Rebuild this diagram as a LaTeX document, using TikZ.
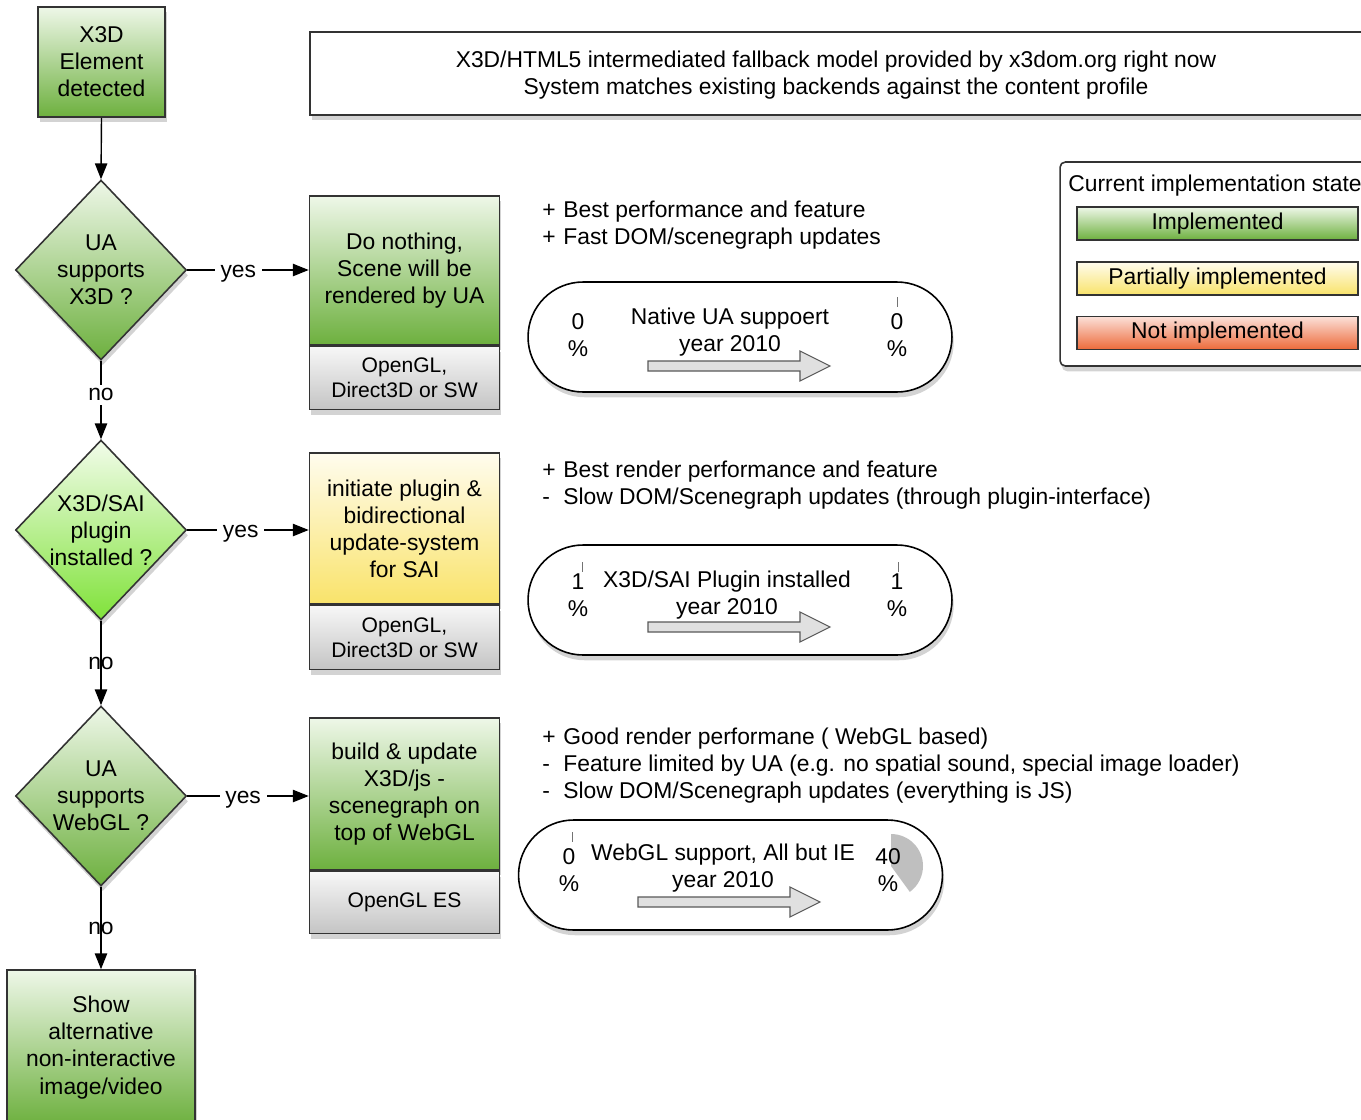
\documentclass[tikz,border=0pt]{standalone}
\usepackage{fontspec}
\setmainfont{Liberation Sans}
\usetikzlibrary{shapes.geometric}
\usetikzlibrary{shadows}
\usetikzlibrary{arrows.meta}

\definecolor{grtop}{HTML}{EEF7E8}
\definecolor{grbot}{HTML}{6DB03E}
\definecolor{ltgrtop}{HTML}{F2FCEA}
\definecolor{ltgrbot}{HTML}{80E23A}
\definecolor{yltop}{HTML}{FFFCEE}
\definecolor{ylbot}{HTML}{F9E36A}
\definecolor{gytop}{HTML}{F7F7F7}
\definecolor{gybot}{HTML}{C4C4C4}
\definecolor{rdtop}{HTML}{FCE0D8}
\definecolor{rdbot}{HTML}{EC6A3A}
\definecolor{edge}{HTML}{333333}

\newcommand\pro{\makebox[0.92em][l]{+}}
\newcommand\con{\makebox[0.92em][l]{-}}

\tikzset{
  shade/.style={drop shadow={shadow xshift=1pt, shadow yshift=-3pt, opacity=0.35}},
  box/.style={draw=edge, line width=0.9pt, align=center, inner sep=0pt, shade},
  okbox/.style={box, top color=grtop, bottom color=grbot, minimum width=3.8cm},
  halfbox/.style={box, top color=yltop, bottom color=ylbot, minimum width=3.8cm},
  apibox/.style={box, top color=gytop, bottom color=gybot, minimum width=3.8cm, anchor=north,
    font=\fontsize{12}{14.2}\selectfont},
  decide/.style={diamond, draw=edge, line width=0.9pt, align=center, inner sep=-8pt,
    minimum width=3.42cm, minimum height=3.6cm, top color=grtop, bottom color=grbot, shade},
  oval/.style={draw=black, line width=0.9pt, fill=white, rounded corners=1.1cm,
    minimum width=8.48cm, minimum height=2.2cm, shade},
  bar/.style={draw=edge, line width=0.8pt, minimum width=5.62cm, minimum height=0.66cm, inner sep=0pt},
  flow/.style={-{Triangle[length=9pt,width=7pt]}, line width=0.8pt},
  answer/.style={fill=white, yshift=-2pt},
  bigarrow/.style={draw=black!65, fill=black!12, line width=0.6pt},
  pie/.style={fill=black!25},
  tick/.style={black!55, line width=0.4pt}
}

\begin{document}
\begin{tikzpicture}[x=0.02cm, y=-0.02cm, font=\fontsize{13}{15.4}\selectfont]
\useasboundingbox (0,0) rectangle (1361,1119);
\clip (0,0) rectangle (1361,1119);

% flow on the left
\node[okbox, minimum width=2.54cm, minimum height=2.2cm] (start) at (101.5,62) {X3D\\Element\\detected};
\node[decide] (d1) at (101,270) {UA\\supports\\X3D ?};
\node[decide, top color=ltgrtop, bottom color=ltgrbot] (d2) at (101,530) {X3D/SAI\\plugin\\installed ?};
\node[decide] (d3) at (101,796) {UA\\supports\\WebGL ?};
\node[okbox, minimum width=3.76cm, minimum height=3.1cm] (alt) at (101,1047.5) {Show\\alternative\\non-interactive\\image/video};

% backends
\node[okbox, minimum height=2.98cm] (b1) at (404.5,270.5) {Do nothing,\\Scene will be\\rendered by UA};
\node[apibox, minimum height=1.26cm] (b1api) at (b1.south) {OpenGL,\\Direct3D or SW};
\node[halfbox, minimum height=3.02cm] (b2) at (404.5,528.5) {initiate plugin \&\\bidirectional\\update-system\\for SAI};
\node[apibox, minimum height=1.28cm] (b2api) at (b2.south) {OpenGL,\\Direct3D or SW};
\node[okbox, minimum height=3.04cm] (b3) at (404.5,794) {build \& update\\X3D/js -\\scenegraph on\\top of WebGL};
\node[apibox, minimum height=1.24cm] (b3api) at (b3.south) {OpenGL ES};

\draw[flow] (start.south) -- (d1.north);
\draw[flow] (d1.east) -- node[answer, pos=0.42] {yes} (d1.east -| b1.west);
\draw[flow] (d2.east) -- node[answer, pos=0.44] {yes} (d2.east -| b2.west);
\draw[flow] (d3.east) -- node[answer, pos=0.46] {yes} (d3.east -| b3.west);
\draw[flow] (d1.south) -- node[fill=white, inner sep=2pt, yshift=3pt] {no} (d2.north);
\draw[flow] (d2.south) -- node {no} (d3.north);
\draw[flow] (d3.south) -- node {no} (alt.north);

% header
\node[box, fill=white, minimum width=21.08cm, minimum height=1.66cm] (head) at (837,73.5) {};
\node[align=center] (headtxt) at (836,75.5)
  {X3D/HTML5 intermediated fallback model provided by x3dom.org right now\\System matches existing backends against the content profile};

% legend
\node[box, fill=white, rounded corners=3pt, minimum width=6.2cm, minimum height=4.08cm] (legend) at (1215,264) {};
\node[anchor=west, inner sep=0pt] (legtitle) at (1068,186) {Current implementation state};
\node[bar, top color=grtop, bottom color=grbot] (leg1) at (1217.5,223.5) {Implemented};
\node[bar, top color=yltop, bottom color=ylbot] (leg2) at (1217.5,278.5) {Partially implemented};
\node[bar, top color=rdtop, bottom color=rdbot] (leg3) at (1217.5,333) {Not implemented};

% pros and cons
\node[anchor=west, align=left, inner sep=0pt] (txt1) at (542,225)
  {\pro Best performance and feature\\\pro Fast DOM/scenegraph updates};
\node[anchor=west, align=left, inner sep=0pt] (txt2) at (542,485)
  {\pro Best render performance and feature\\\con Slow DOM/Scenegraph updates (through plugin-interface)};
\node[anchor=west, align=left, inner sep=0pt] (txt3) at (542,765.5)
  {\pro Good render performane ( WebGL based)\\\con Feature limited by UA (e.g. no spatial sound, special image loader)\\\con Slow DOM/Scenegraph updates (everything is JS)};

% usage ovals
\node[oval] (o1) at (740,337) {};
\draw[tick] (897,297) -- (897,307);
\node[align=center] (o1l) at (578,335) {0\\\%};
\node[align=center] (o1t) at (730,332) {Native UA suppoert\\year 2010};
\node[align=center] (o1r) at (897,335) {0\\\%};
\draw[bigarrow] (648,361) -- (800,361) -- (800,351) -- (830,366) -- (800,381) -- (800,371) -- (648,371) -- cycle;

\node[oval] (o2) at (740,600) {};
\draw[tick] (582,562) -- (582,572);
\draw[tick] (898,562) -- (898,572);
\node[align=center] (o2l) at (578,595) {1\\\%};
\node[align=center] (o2t) at (727,595) {X3D/SAI Plugin installed\\year 2010};
\node[align=center] (o2r) at (897,595) {1\\\%};
\draw[bigarrow] (648,622) -- (800,622) -- (800,612) -- (830,627) -- (800,642) -- (800,632) -- (648,632) -- cycle;

\node[oval] (o3) at (730.5,875) {};
\draw[tick] (572,832) -- (572,842);
\fill[pie] (891,866) -- (891,834) arc[start angle=90, end angle=-54, radius=0.64cm] -- cycle;
\node[align=center] (o3l) at (569,870) {0\\\%};
\node[align=center] (o3t) at (723,868) {WebGL support, All but IE\\year 2010};
\node[align=center] (o3r) at (888,870) {40\\\%};
\draw[bigarrow] (638,897) -- (790,897) -- (790,887) -- (820,902) -- (790,917) -- (790,907) -- (638,907) -- cycle;
\end{tikzpicture}
\end{document}
